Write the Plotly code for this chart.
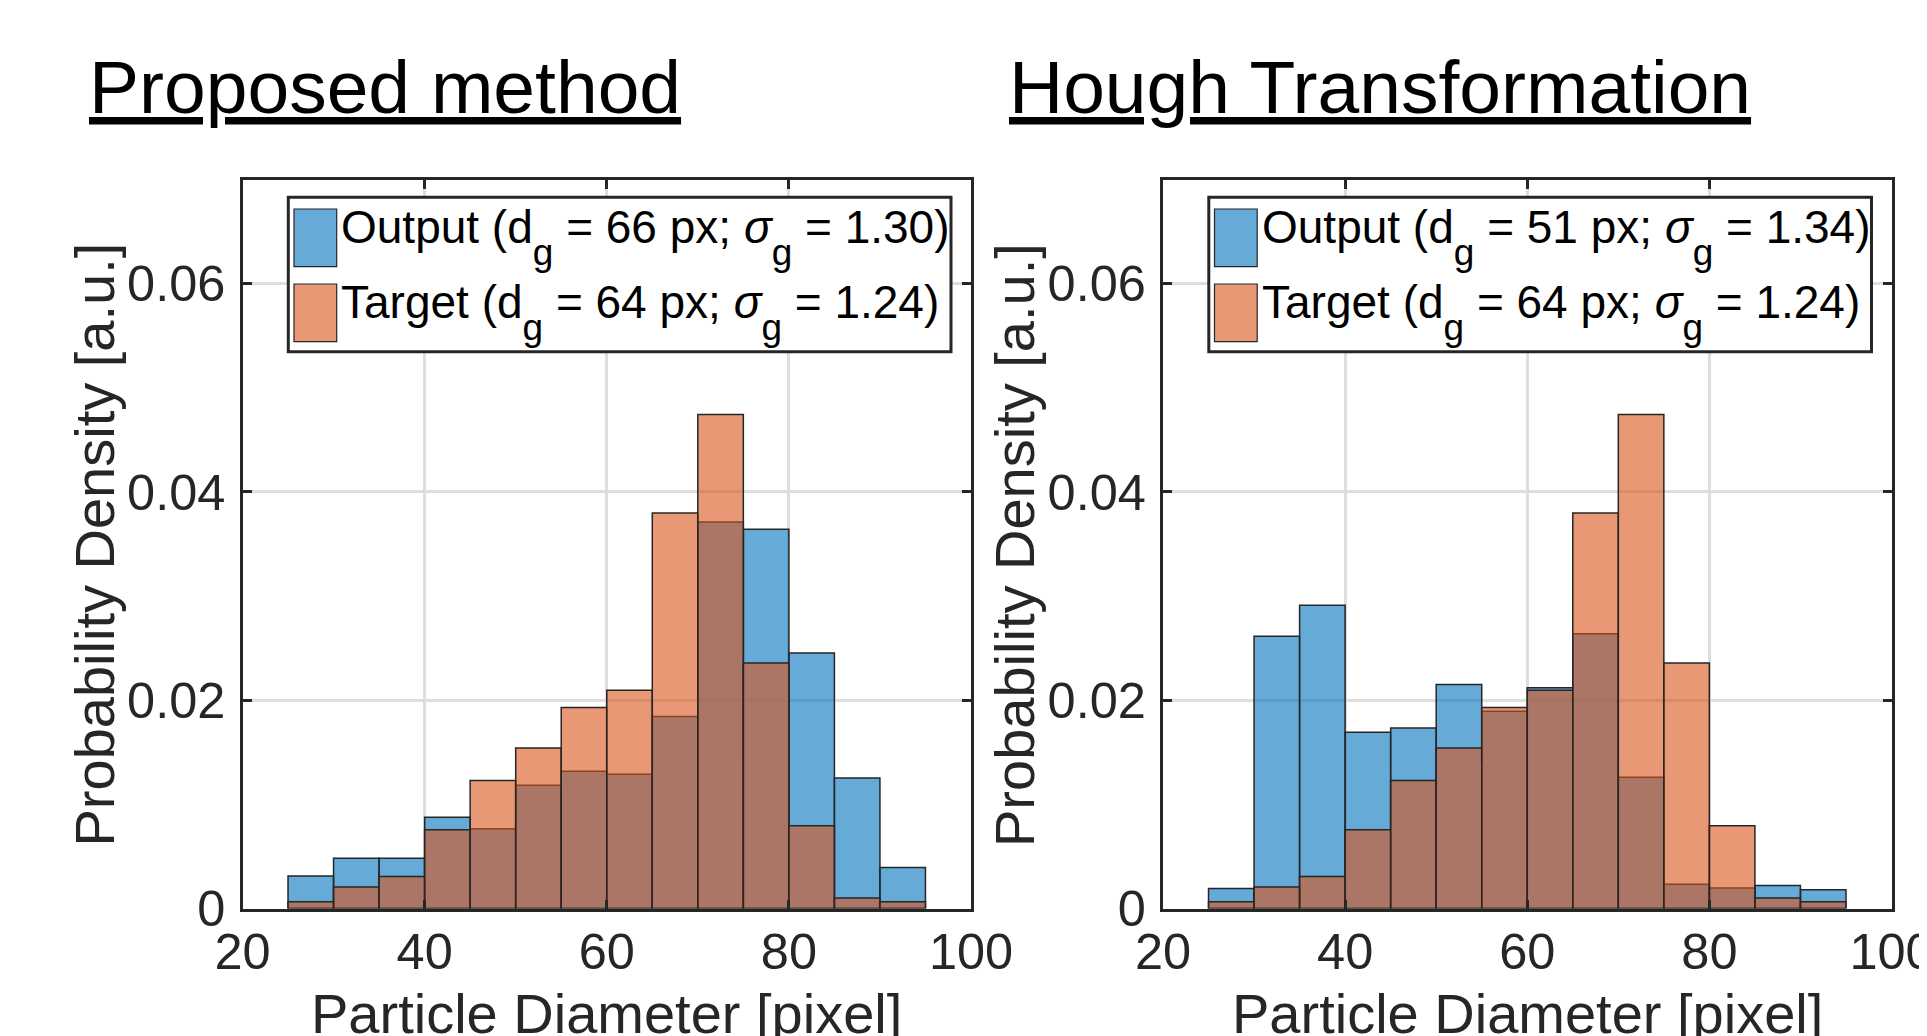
import plotly.graph_objects as go

# ---------------- data ----------------
bin_edges = [25, 30, 35, 40, 45, 50, 55, 60, 65, 70, 75, 80, 85, 90, 95]
target_density = [0.00064, 0.00206, 0.00307, 0.00757, 0.01229, 0.01541, 0.01931,
                  0.02096, 0.03798, 0.04743, 0.02358, 0.00794, 0.00101, 0.00064]
proposed_output = [0.00312, 0.00482, 0.00482, 0.00876, 0.00766, 0.01183, 0.01317,
                   0.01289, 0.01844, 0.03711, 0.03642, 0.02454, 0.01252, 0.00394]
hough_output = [0.00193, 0.02615, 0.02913, 0.01693, 0.01734, 0.02151, 0.01894,
                0.02120, 0.02638, 0.01261, 0.00234, 0.00197, 0.00220, 0.00179]

panel_titles = ["Proposed method", "Hough Transformation"]
output_dg = ["66", "51"]
output_sg = ["1.30", "1.34"]
target_dg = ["64", "64"]
target_sg = ["1.24", "1.24"]
x_tickvals = [20, 40, 60, 80, 100]
y_tickvals = [0, 0.02, 0.04, 0.06]
y_ticktext = ["0", "0.02", "0.04", "0.06"]
x_title = "Particle Diameter [pixel]"
y_title = "Probability Density [a.u.]"

# ---------------- style ----------------
W, H = 1927, 1036
OFF = 8  # page body margin
FONT = "Liberation Sans, Arial, Helvetica, sans-serif"
AX = "#262626"
BLUE = "rgba(0,114,189,0.6)"
ORANGE = "rgba(217,83,25,0.6)"
SUB = '<span style="font-size:37px;baseline-shift:-22px">g</span>'


def legend_text(name, dg, sg):
    return f"{name} (d{SUB} = {dg} px; <i>σ</i>{SUB} = {sg})"


def px(xp):
    return (xp - OFF) / W


def py(yp):
    return 1 - (yp - OFF) / H


left_px = [242.5, 1163.0]
axw = 728.5
top_px, bot_px = 179.5, 908.5

bin_widths = [b - a for a, b in zip(bin_edges[:-1], bin_edges[1:])]
bin_centers = [(a + b) / 2 for a, b in zip(bin_edges[:-1], bin_edges[1:])]

fig = go.Figure()
outputs = [proposed_output, hough_output]
for i in range(2):
    xa = "x" if i == 0 else "x2"
    ya = "y" if i == 0 else "y2"
    fig.add_trace(go.Bar(x=bin_centers, y=outputs[i], width=bin_widths,
                         marker=dict(color=BLUE, line=dict(color=AX, width=1.5)),
                         xaxis=xa, yaxis=ya, name="Output"))
    fig.add_trace(go.Bar(x=bin_centers, y=target_density, width=bin_widths,
                         marker=dict(color=ORANGE, line=dict(color=AX, width=1.5)),
                         xaxis=xa, yaxis=ya, name="Target"))

axis_common = dict(showline=True, linecolor=AX, linewidth=3, mirror="ticks",
                   ticks="inside", ticklen=9, tickwidth=2.5, tickcolor=AX,
                   showgrid=True, gridcolor="#dedede", gridwidth=2.5,
                   zeroline=False, automargin=False, ticklabeloverflow="allow",
                   tickfont=dict(family=FONT, size=50.5, color=AX))

layout = dict(width=W, height=H, margin=dict(l=0, r=0, t=0, b=0, autoexpand=False),
              paper_bgcolor="white", plot_bgcolor="white", template="none",
              barmode="overlay", showlegend=False,
              font=dict(family=FONT, color=AX))

for i in range(2):
    sx = "" if i == 0 else "2"
    dom_x = [px(left_px[i]), px(left_px[i] + axw)]
    layout["xaxis" + sx] = dict(axis_common, domain=dom_x, range=[20, 100],
                                tickvals=x_tickvals, ticklabelstandoff=-3,
                                anchor="y" + sx)
    layout["yaxis" + sx] = dict(axis_common, domain=[py(bot_px), py(top_px)],
                                range=[0, 0.07], tickvals=y_tickvals,
                                ticktext=y_ticktext, ticklabelstandoff=4,
                                anchor="x" + sx)

fig.update_layout(**layout)

annotations = []
shapes = []
for i in range(2):
    L = left_px[i]
    off = L - left_px[0]
    # panel title
    annotations.append(dict(text="<u>" + panel_titles[i] + "</u>", xref="paper", yref="paper",
                            x=px(88 + off - 0.5), y=py(130), xanchor="left", yanchor="bottom",
                            showarrow=False, borderpad=0,
                            font=dict(family=FONT, size=75, color="black")))
    # axis titles
    annotations.append(dict(text=x_title, xref="paper", yref="paper",
                            x=px(L + axw / 2), y=py(981), xanchor="center", yanchor="top",
                            showarrow=False, borderpad=0,
                            font=dict(family=FONT, size=56, color=AX)))
    annotations.append(dict(text=y_title, xref="paper", yref="paper", textangle=-90,
                            x=px(94 + off), y=py(544.5), xanchor="center", yanchor="middle",
                            showarrow=False, borderpad=0,
                            font=dict(family=FONT, size=56, color=AX)))
    # legend box
    shapes.append(dict(type="rect", xref="paper", yref="paper",
                       x0=px(288.3 + off), x1=px(951 + off), y0=py(351.7), y1=py(197.3),
                       line=dict(color=AX, width=3), fillcolor="white", layer="above"))
    labels = [legend_text("Output", output_dg[i], output_sg[i]),
              legend_text("Target", target_dg[i], target_sg[i])]
    for j, (col, lab) in enumerate(zip([BLUE, ORANGE], labels)):
        y0 = 209 + j * 75
        shapes.append(dict(type="rect", xref="paper", yref="paper",
                           x0=px(294 + off), x1=px(336.7 + off), y0=py(y0 + 57.7), y1=py(y0),
                           line=dict(color=AX, width=1.2), fillcolor=col, layer="above"))
        annotations.append(dict(text=lab, xref="paper", yref="paper",
                                x=px(340 + off), y=py(y0 + 28), xanchor="left", yanchor="middle",
                                showarrow=False, borderpad=0,
                                font=dict(family=FONT, size=46, color="black")))

fig.update_layout(annotations=annotations, shapes=shapes)
fig.write_html("out.html")
